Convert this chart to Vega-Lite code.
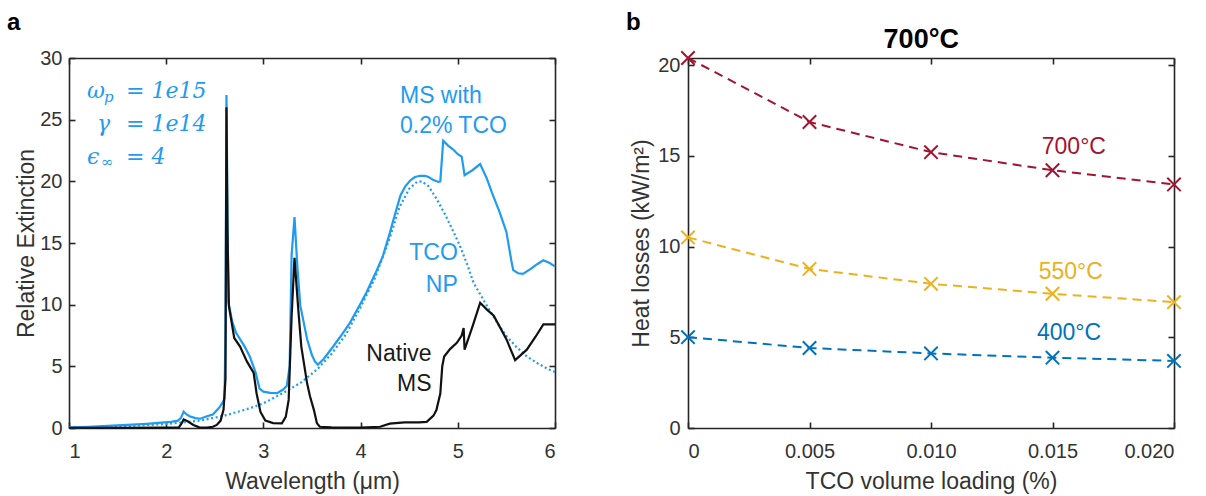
{
  "$schema": "https://vega.github.io/schema/vega-lite/v6.json",
  "background": "white",
  "padding": {"left": 6, "top": 11, "right": 4, "bottom": 4},
  "spacing": 66,
  "config": {
    "font": "Liberation Sans",
    "view": {"stroke": null},
    "axis": {
      "grid": false,
      "domainColor": "#262626",
      "domainWidth": 1.6,
      "tickColor": "#262626",
      "tickWidth": 1.6,
      "tickSize": -6,
      "labelColor": "#333333",
      "labelFont": "Liberation Sans",
      "labelFontSize": 20,
      "labelPadding": 19,
      "titleColor": "#333333",
      "titleFont": "Liberation Sans",
      "titleFontSize": 23,
      "titleFontWeight": "normal"
    }
  },
  "datasets": {
    "ms_tco": [
      {"wavelength": 1.00, "extinction": 0.05}, {"wavelength": 1.20, "extinction": 0.10},
      {"wavelength": 1.40, "extinction": 0.17}, {"wavelength": 1.60, "extinction": 0.25},
      {"wavelength": 1.80, "extinction": 0.34}, {"wavelength": 1.95, "extinction": 0.43},
      {"wavelength": 2.05, "extinction": 0.50}, {"wavelength": 2.12, "extinction": 0.60},
      {"wavelength": 2.15, "extinction": 0.80}, {"wavelength": 2.18, "extinction": 1.33},
      {"wavelength": 2.21, "extinction": 1.10}, {"wavelength": 2.24, "extinction": 0.95},
      {"wavelength": 2.30, "extinction": 0.80}, {"wavelength": 2.35, "extinction": 0.75},
      {"wavelength": 2.42, "extinction": 0.95}, {"wavelength": 2.48, "extinction": 1.10},
      {"wavelength": 2.54, "extinction": 1.60}, {"wavelength": 2.58, "extinction": 2.05},
      {"wavelength": 2.60, "extinction": 2.40}, {"wavelength": 2.61, "extinction": 8.0},
      {"wavelength": 2.62, "extinction": 27.0}, {"wavelength": 2.63, "extinction": 18.0},
      {"wavelength": 2.64, "extinction": 10.2}, {"wavelength": 2.68, "extinction": 8.6},
      {"wavelength": 2.72, "extinction": 7.7}, {"wavelength": 2.80, "extinction": 6.7},
      {"wavelength": 2.86, "extinction": 5.8}, {"wavelength": 2.92, "extinction": 4.5},
      {"wavelength": 2.96, "extinction": 3.2}, {"wavelength": 3.00, "extinction": 2.95},
      {"wavelength": 3.07, "extinction": 2.85}, {"wavelength": 3.14, "extinction": 2.83},
      {"wavelength": 3.20, "extinction": 3.1}, {"wavelength": 3.24, "extinction": 3.4},
      {"wavelength": 3.27, "extinction": 5.0}, {"wavelength": 3.29, "extinction": 14.0},
      {"wavelength": 3.32, "extinction": 17.1}, {"wavelength": 3.35, "extinction": 13.0},
      {"wavelength": 3.38, "extinction": 9.9}, {"wavelength": 3.45, "extinction": 7.2},
      {"wavelength": 3.50, "extinction": 5.9}, {"wavelength": 3.53, "extinction": 5.4},
      {"wavelength": 3.56, "extinction": 5.13}, {"wavelength": 3.62, "extinction": 5.6},
      {"wavelength": 3.72, "extinction": 6.63}, {"wavelength": 3.80, "extinction": 7.5},
      {"wavelength": 3.89, "extinction": 8.53}, {"wavelength": 4.00, "extinction": 10.1},
      {"wavelength": 4.06, "extinction": 10.98}, {"wavelength": 4.15, "extinction": 12.5},
      {"wavelength": 4.23, "extinction": 13.96}, {"wavelength": 4.30, "extinction": 15.8},
      {"wavelength": 4.34, "extinction": 16.95}, {"wavelength": 4.41, "extinction": 18.85},
      {"wavelength": 4.46, "extinction": 19.6}, {"wavelength": 4.51, "extinction": 20.07},
      {"wavelength": 4.56, "extinction": 20.35}, {"wavelength": 4.61, "extinction": 20.45},
      {"wavelength": 4.66, "extinction": 20.45}, {"wavelength": 4.70, "extinction": 20.35},
      {"wavelength": 4.75, "extinction": 20.1}, {"wavelength": 4.80, "extinction": 19.95},
      {"wavelength": 4.82, "extinction": 20.0}, {"wavelength": 4.85, "extinction": 23.3},
      {"wavelength": 4.90, "extinction": 22.9}, {"wavelength": 4.95, "extinction": 22.6},
      {"wavelength": 5.00, "extinction": 22.2}, {"wavelength": 5.04, "extinction": 22.0},
      {"wavelength": 5.07, "extinction": 20.5}, {"wavelength": 5.15, "extinction": 20.9},
      {"wavelength": 5.23, "extinction": 21.4}, {"wavelength": 5.30, "extinction": 20.2},
      {"wavelength": 5.35, "extinction": 19.1}, {"wavelength": 5.43, "extinction": 17.5},
      {"wavelength": 5.50, "extinction": 15.9}, {"wavelength": 5.55, "extinction": 13.6},
      {"wavelength": 5.57, "extinction": 12.8}, {"wavelength": 5.62, "extinction": 12.55},
      {"wavelength": 5.67, "extinction": 12.5}, {"wavelength": 5.75, "extinction": 12.9},
      {"wavelength": 5.82, "extinction": 13.3}, {"wavelength": 5.88, "extinction": 13.6},
      {"wavelength": 5.94, "extinction": 13.4}, {"wavelength": 6.00, "extinction": 13.1}
    ],
    "tco_np": [
      {"wavelength": 1.00, "extinction": 0.03}, {"wavelength": 1.50, "extinction": 0.12},
      {"wavelength": 2.00, "extinction": 0.32}, {"wavelength": 2.35, "extinction": 0.60},
      {"wavelength": 2.60, "extinction": 1.00}, {"wavelength": 2.86, "extinction": 1.60},
      {"wavelength": 3.00, "extinction": 2.00}, {"wavelength": 3.20, "extinction": 2.83},
      {"wavelength": 3.38, "extinction": 3.65}, {"wavelength": 3.55, "extinction": 4.73},
      {"wavelength": 3.70, "extinction": 6.00}, {"wavelength": 3.85, "extinction": 7.60},
      {"wavelength": 4.00, "extinction": 9.80}, {"wavelength": 4.15, "extinction": 12.2},
      {"wavelength": 4.30, "extinction": 15.4}, {"wavelength": 4.40, "extinction": 17.9},
      {"wavelength": 4.50, "extinction": 19.4}, {"wavelength": 4.58, "extinction": 19.95},
      {"wavelength": 4.63, "extinction": 20.0}, {"wavelength": 4.70, "extinction": 19.6},
      {"wavelength": 4.78, "extinction": 18.6}, {"wavelength": 4.87, "extinction": 17.3},
      {"wavelength": 4.95, "extinction": 16.0}, {"wavelength": 5.02, "extinction": 14.8},
      {"wavelength": 5.10, "extinction": 13.2}, {"wavelength": 5.16, "extinction": 11.8},
      {"wavelength": 5.30, "extinction": 9.9}, {"wavelength": 5.40, "extinction": 8.6},
      {"wavelength": 5.50, "extinction": 7.45}, {"wavelength": 5.60, "extinction": 6.6},
      {"wavelength": 5.71, "extinction": 5.8}, {"wavelength": 5.83, "extinction": 5.2},
      {"wavelength": 5.95, "extinction": 4.7}, {"wavelength": 6.00, "extinction": 4.55}
    ],
    "native_ms": [
      {"wavelength": 1.00, "extinction": 0.02}, {"wavelength": 1.50, "extinction": 0.02},
      {"wavelength": 2.00, "extinction": 0.03}, {"wavelength": 2.13, "extinction": 0.05},
      {"wavelength": 2.16, "extinction": 0.40}, {"wavelength": 2.18, "extinction": 0.70},
      {"wavelength": 2.22, "extinction": 0.55}, {"wavelength": 2.28, "extinction": 0.25},
      {"wavelength": 2.34, "extinction": 0.05}, {"wavelength": 2.42, "extinction": 0.03},
      {"wavelength": 2.48, "extinction": 0.10}, {"wavelength": 2.52, "extinction": 0.25},
      {"wavelength": 2.56, "extinction": 0.60}, {"wavelength": 2.59, "extinction": 1.50},
      {"wavelength": 2.61, "extinction": 4.0}, {"wavelength": 2.62, "extinction": 26.0},
      {"wavelength": 2.63, "extinction": 16.0}, {"wavelength": 2.645, "extinction": 9.9},
      {"wavelength": 2.70, "extinction": 7.3}, {"wavelength": 2.76, "extinction": 6.6},
      {"wavelength": 2.83, "extinction": 5.4}, {"wavelength": 2.90, "extinction": 4.46},
      {"wavelength": 2.93, "extinction": 2.8}, {"wavelength": 2.97, "extinction": 1.3},
      {"wavelength": 3.02, "extinction": 0.6}, {"wavelength": 3.10, "extinction": 0.4},
      {"wavelength": 3.19, "extinction": 0.38}, {"wavelength": 3.23, "extinction": 0.9},
      {"wavelength": 3.26, "extinction": 2.28}, {"wavelength": 3.29, "extinction": 9.0},
      {"wavelength": 3.32, "extinction": 13.8}, {"wavelength": 3.36, "extinction": 9.5},
      {"wavelength": 3.39, "extinction": 6.6}, {"wavelength": 3.45, "extinction": 3.6},
      {"wavelength": 3.48, "extinction": 2.55}, {"wavelength": 3.52, "extinction": 1.45},
      {"wavelength": 3.55, "extinction": 0.4}, {"wavelength": 3.58, "extinction": 0.1},
      {"wavelength": 3.70, "extinction": 0.05}, {"wavelength": 4.00, "extinction": 0.03},
      {"wavelength": 4.20, "extinction": 0.1}, {"wavelength": 4.30, "extinction": 0.35},
      {"wavelength": 4.45, "extinction": 0.45}, {"wavelength": 4.60, "extinction": 0.45},
      {"wavelength": 4.68, "extinction": 0.5}, {"wavelength": 4.75, "extinction": 1.0},
      {"wavelength": 4.78, "extinction": 1.45}, {"wavelength": 4.82, "extinction": 2.8},
      {"wavelength": 4.84, "extinction": 5.0}, {"wavelength": 4.86, "extinction": 5.8},
      {"wavelength": 4.92, "extinction": 6.4}, {"wavelength": 4.99, "extinction": 6.9},
      {"wavelength": 5.04, "extinction": 7.5}, {"wavelength": 5.06, "extinction": 8.1},
      {"wavelength": 5.07, "extinction": 6.35}, {"wavelength": 5.15, "extinction": 8.2},
      {"wavelength": 5.23, "extinction": 10.15}, {"wavelength": 5.30, "extinction": 9.6},
      {"wavelength": 5.37, "extinction": 9.1}, {"wavelength": 5.50, "extinction": 7.2},
      {"wavelength": 5.59, "extinction": 5.5}, {"wavelength": 5.71, "extinction": 6.35},
      {"wavelength": 5.80, "extinction": 7.4}, {"wavelength": 5.88, "extinction": 8.4},
      {"wavelength": 6.00, "extinction": 8.4}
    ],
    "labels_blue_left": [
      {"wavelength": 4.405, "extinction": 26.32, "text": "MS with"},
      {"wavelength": 4.405, "extinction": 23.88, "text": "0.2% TCO"}
    ],
    "labels_blue_right": [
      {"wavelength": 5.0, "extinction": 13.61, "text": "TCO"},
      {"wavelength": 5.0, "extinction": 11.06, "text": "NP"}
    ],
    "labels_black_right": [
      {"wavelength": 4.73, "extinction": 5.4, "text": "Native"},
      {"wavelength": 4.73, "extinction": 2.96, "text": "MS"}
    ],
    "math_symbols": [
      {"wavelength": 1.185, "extinction": 26.73, "text": "ω"},
      {"wavelength": 1.288, "extinction": 24.12, "text": "γ"},
      {"wavelength": 1.185, "extinction": 21.43, "text": "ϵ"}
    ],
    "math_subscripts": [
      {"wavelength": 1.36, "extinction": 26.45, "text": "p"},
      {"wavelength": 1.33, "extinction": 21.2, "text": "∞"}
    ],
    "math_values": [
      {"wavelength": 1.586, "extinction": 26.73, "text": "= 1e15"},
      {"wavelength": 1.586, "extinction": 24.12, "text": "= 1e14"},
      {"wavelength": 1.586, "extinction": 21.43, "text": "= 4"}
    ],
    "panel_a": [
      {"wavelength": 0.362, "extinction": 32.27, "text": "a"}
    ],
    "heat": [
      {"loading": 0.000, "loss": 20.4, "temp": "700°C"},
      {"loading": 0.005, "loss": 16.87, "temp": "700°C"},
      {"loading": 0.010, "loss": 15.21, "temp": "700°C"},
      {"loading": 0.015, "loss": 14.21, "temp": "700°C"},
      {"loading": 0.020, "loss": 13.43, "temp": "700°C"},
      {"loading": 0.000, "loss": 10.51, "temp": "550°C"},
      {"loading": 0.005, "loss": 8.77, "temp": "550°C"},
      {"loading": 0.010, "loss": 7.95, "temp": "550°C"},
      {"loading": 0.015, "loss": 7.40, "temp": "550°C"},
      {"loading": 0.020, "loss": 6.94, "temp": "550°C"},
      {"loading": 0.000, "loss": 5.01, "temp": "400°C"},
      {"loading": 0.005, "loss": 4.41, "temp": "400°C"},
      {"loading": 0.010, "loss": 4.11, "temp": "400°C"},
      {"loading": 0.015, "loss": 3.88, "temp": "400°C"},
      {"loading": 0.020, "loss": 3.70, "temp": "400°C"}
    ],
    "heat_labels": [
      {"loading": 0.01588, "loss": 15.09, "temp": "700°C"},
      {"loading": 0.01575, "loss": 8.22, "temp": "550°C"},
      {"loading": 0.01568, "loss": 4.84, "temp": "400°C"}
    ],
    "panel_b": [
      {"loading": -0.00255, "loss": 21.94, "text": "b"}
    ],
    "panel_b_title": [
      {"loading": 0.0096, "loss": 20.95, "text": "700°C"}
    ]
  },
  "hconcat": [
    {
      "width": 486,
      "height": 370,
      "layer": [
        {
          "data": {"name": "ms_tco"},
          "mark": {"type": "line", "color": "#1f9bf0", "strokeWidth": 2.2},
          "encoding": {
            "x": {"field": "wavelength", "type": "quantitative",
                  "scale": {"domain": [1, 6], "nice": false, "zero": false},
                  "axis": {"orient": "bottom", "values": [1, 2, 3, 4, 5, 6], "format": "d",
                           "title": "Wavelength (μm)", "titlePadding": 9}},
            "y": {"field": "extinction", "type": "quantitative",
                  "scale": {"domain": [0, 30], "nice": false},
                  "axis": {"orient": "left", "values": [0, 5, 10, 15, 20, 25, 30],
                           "title": "Relative Extinction", "labelPadding": 13, "titlePadding": 1}}
          }
        },
        {
          "data": {"name": "tco_np"},
          "mark": {"type": "line", "color": "#1f9bf0", "strokeWidth": 2.2, "strokeDash": [2, 2.6]},
          "encoding": {
            "x": {"field": "wavelength", "type": "quantitative",
                  "scale": {"domain": [1, 6], "nice": false, "zero": false},
                  "axis": {"orient": "top", "values": [1, 2, 3, 4, 5, 6], "labels": false, "title": null}},
            "y": {"field": "extinction", "type": "quantitative",
                  "scale": {"domain": [0, 30], "nice": false},
                  "axis": {"orient": "right", "values": [0, 5, 10, 15, 20, 25, 30], "labels": false, "title": null}}
          }
        },
        {
          "data": {"name": "native_ms"},
          "mark": {"type": "line", "color": "#111111", "strokeWidth": 2.2},
          "encoding": {
            "x": {"field": "wavelength", "type": "quantitative", "scale": {"domain": [1, 6], "nice": false, "zero": false}, "axis": null},
            "y": {"field": "extinction", "type": "quantitative", "scale": {"domain": [0, 30], "nice": false}, "axis": null}
          }
        },
        {
          "data": {"name": "labels_blue_left"},
          "mark": {"type": "text", "color": "#1f9bf0", "fontSize": 23, "align": "left", "baseline": "alphabetic"},
          "encoding": {
            "x": {"field": "wavelength", "type": "quantitative", "scale": {"domain": [1, 6], "nice": false, "zero": false}, "axis": null},
            "y": {"field": "extinction", "type": "quantitative", "scale": {"domain": [0, 30], "nice": false}, "axis": null},
            "text": {"field": "text"}
          }
        },
        {
          "data": {"name": "labels_blue_right"},
          "mark": {"type": "text", "color": "#1f9bf0", "fontSize": 23, "align": "right", "baseline": "alphabetic"},
          "encoding": {
            "x": {"field": "wavelength", "type": "quantitative", "scale": {"domain": [1, 6], "nice": false, "zero": false}, "axis": null},
            "y": {"field": "extinction", "type": "quantitative", "scale": {"domain": [0, 30], "nice": false}, "axis": null},
            "text": {"field": "text"}
          }
        },
        {
          "data": {"name": "labels_black_right"},
          "mark": {"type": "text", "color": "#1a1a1a", "fontSize": 23, "align": "right", "baseline": "alphabetic"},
          "encoding": {
            "x": {"field": "wavelength", "type": "quantitative", "scale": {"domain": [1, 6], "nice": false, "zero": false}, "axis": null},
            "y": {"field": "extinction", "type": "quantitative", "scale": {"domain": [0, 30], "nice": false}, "axis": null},
            "text": {"field": "text"}
          }
        },
        {
          "data": {"name": "math_symbols"},
          "mark": {"type": "text", "color": "#1f9bf0", "font": "DejaVu Serif", "fontStyle": "italic", "fontSize": 22, "align": "left", "baseline": "alphabetic"},
          "encoding": {
            "x": {"field": "wavelength", "type": "quantitative", "scale": {"domain": [1, 6], "nice": false, "zero": false}, "axis": null},
            "y": {"field": "extinction", "type": "quantitative", "scale": {"domain": [0, 30], "nice": false}, "axis": null},
            "text": {"field": "text"}
          }
        },
        {
          "data": {"name": "math_subscripts"},
          "mark": {"type": "text", "color": "#1f9bf0", "font": "DejaVu Serif", "fontStyle": "italic", "fontSize": 15, "align": "left", "baseline": "alphabetic"},
          "encoding": {
            "x": {"field": "wavelength", "type": "quantitative", "scale": {"domain": [1, 6], "nice": false, "zero": false}, "axis": null},
            "y": {"field": "extinction", "type": "quantitative", "scale": {"domain": [0, 30], "nice": false}, "axis": null},
            "text": {"field": "text"}
          }
        },
        {
          "data": {"name": "math_values"},
          "mark": {"type": "text", "color": "#1f9bf0", "font": "DejaVu Serif", "fontStyle": "italic", "fontSize": 22, "align": "left", "baseline": "alphabetic"},
          "encoding": {
            "x": {"field": "wavelength", "type": "quantitative", "scale": {"domain": [1, 6], "nice": false, "zero": false}, "axis": null},
            "y": {"field": "extinction", "type": "quantitative", "scale": {"domain": [0, 30], "nice": false}, "axis": null},
            "text": {"field": "text"}
          }
        },
        {
          "data": {"name": "panel_a"},
          "mark": {"type": "text", "color": "#000000", "fontSize": 24, "fontWeight": "bold", "align": "left", "baseline": "alphabetic"},
          "encoding": {
            "x": {"field": "wavelength", "type": "quantitative", "scale": {"domain": [1, 6], "nice": false, "zero": false}, "axis": null},
            "y": {"field": "extinction", "type": "quantitative", "scale": {"domain": [0, 30], "nice": false}, "axis": null},
            "text": {"field": "text"}
          }
        }
      ],
      "resolve": {"axis": {"x": "independent", "y": "independent"}}
    },
    {
      "width": 486,
      "height": 370,
      "layer": [
        {
          "data": {"name": "heat"},
          "mark": {"type": "line", "strokeWidth": 2, "strokeDash": [9, 6]},
          "encoding": {
            "x": {"field": "loading", "type": "quantitative",
                  "scale": {"domain": [0, 0.02], "nice": false},
                  "axis": {"orient": "bottom", "values": [0, 0.005, 0.01, 0.015, 0.02],
                           "labelExpr": "datum.value == 0 ? '0' : format(datum.value, '.3f')",
                           "title": "TCO volume loading (%)", "titlePadding": 9}},
            "y": {"field": "loss", "type": "quantitative",
                  "scale": {"domain": [0, 20.4], "nice": false},
                  "axis": {"orient": "left", "values": [0, 5, 10, 15, 20],
                           "title": "Heat losses (kW/m²)", "labelPadding": 14, "titlePadding": 4}},
            "color": {"field": "temp", "type": "nominal",
                      "scale": {"domain": ["700°C", "550°C", "400°C"], "range": ["#a2142f", "#edb120", "#0072bd"]},
                      "legend": null}
          }
        },
        {
          "data": {"name": "heat"},
          "mark": {"type": "point", "shape": "M-1,-1L1,1M1,-1L-1,1", "filled": false, "size": 180, "strokeWidth": 2, "opacity": 1},
          "encoding": {
            "x": {"field": "loading", "type": "quantitative",
                  "scale": {"domain": [0, 0.02], "nice": false},
                  "axis": {"orient": "top", "values": [0, 0.005, 0.01, 0.015, 0.02], "labels": false, "title": null}},
            "y": {"field": "loss", "type": "quantitative",
                  "scale": {"domain": [0, 20.4], "nice": false},
                  "axis": {"orient": "right", "values": [0, 5, 10, 15, 20], "labels": false, "title": null}},
            "color": {"field": "temp", "type": "nominal",
                      "scale": {"domain": ["700°C", "550°C", "400°C"], "range": ["#a2142f", "#edb120", "#0072bd"]},
                      "legend": null}
          }
        },
        {
          "data": {"name": "heat_labels"},
          "mark": {"type": "text", "fontSize": 23, "align": "center", "baseline": "alphabetic"},
          "encoding": {
            "x": {"field": "loading", "type": "quantitative", "scale": {"domain": [0, 0.02], "nice": false}, "axis": null},
            "y": {"field": "loss", "type": "quantitative", "scale": {"domain": [0, 20.4], "nice": false}, "axis": null},
            "text": {"field": "temp"},
            "color": {"field": "temp", "type": "nominal",
                      "scale": {"domain": ["700°C", "550°C", "400°C"], "range": ["#a2142f", "#edb120", "#0072bd"]},
                      "legend": null}
          }
        },
        {
          "data": {"name": "panel_b"},
          "mark": {"type": "text", "color": "#000000", "fontSize": 24, "fontWeight": "bold", "align": "left", "baseline": "alphabetic"},
          "encoding": {
            "x": {"field": "loading", "type": "quantitative", "scale": {"domain": [0, 0.02], "nice": false}, "axis": null},
            "y": {"field": "loss", "type": "quantitative", "scale": {"domain": [0, 20.4], "nice": false}, "axis": null},
            "text": {"field": "text"}
          }
        },
        {
          "data": {"name": "panel_b_title"},
          "mark": {"type": "text", "color": "#000000", "fontSize": 27, "fontWeight": "bold", "align": "center", "baseline": "alphabetic"},
          "encoding": {
            "x": {"field": "loading", "type": "quantitative", "scale": {"domain": [0, 0.02], "nice": false}, "axis": null},
            "y": {"field": "loss", "type": "quantitative", "scale": {"domain": [0, 20.4], "nice": false}, "axis": null},
            "text": {"field": "text"}
          }
        }
      ],
      "resolve": {"axis": {"x": "independent", "y": "independent"}}
    }
  ]
}
